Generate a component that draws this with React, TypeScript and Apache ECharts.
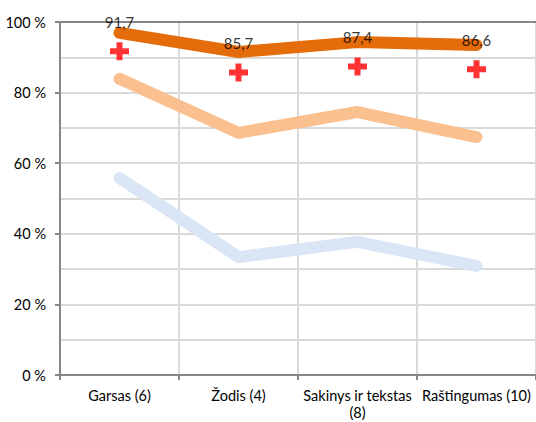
import React, { useEffect, useRef } from "react";
import * as echarts from "echarts";

const categories = ["Garsas (6)", "Žodis (4)", "Sakinys ir tekstas\n(8)", "Raštingumas (10)"];
const topSeries = [96.9, 91.5, 94.3, 93.5];
const midSeries = [83.9, 68.6, 74.5, 67.4];
const lowSeries = [55.8, 33.4, 37.7, 30.9];
const crossValues = [91.7, 85.7, 87.4, 86.6];
const yTicks = [0, 20, 40, 60, 80, 100];

const FONT = "Lato, 'Open Sans', sans-serif";

export default function App() {
  const ref = useRef<HTMLDivElement>(null);
  useEffect(() => {
    if (!ref.current) return;
    const chart = echarts.init(ref.current, null, { renderer: "svg" });
    const lineSeries = (data: number[], color: string, z: number) => ({
      type: "line",
      data,
      symbol: "none",
      z,
      lineStyle: { color, width: 12, cap: "round", join: "round" },
    });
    chart.setOption({
      animation: false,
      backgroundColor: "#ffffff",
      grid: { left: 60, top: 22, width: 480, height: 353 },
      xAxis: [
        {
          type: "category",
          data: categories,
          boundaryGap: true,
          axisLine: { show: true, lineStyle: { color: "#868686", width: 2 } },
          axisTick: { show: true, length: 5, lineStyle: { color: "#868686", width: 2 } },
          axisLabel: {
            color: "#000",
            fontSize: 14.5,
            fontFamily: FONT,
            margin: 12,
            lineHeight: 17,
            interval: 0,
          },
          splitLine: { show: true, lineStyle: { color: "#d9d9d9", width: 2 } },
        },
        {
          type: "category",
          data: categories,
          position: "top",
          axisLine: { show: true, lineStyle: { color: "#868686", width: 2 } },
          axisTick: { show: false },
          axisLabel: { show: false },
          splitLine: { show: false },
        },
      ],
      yAxis: {
        type: "value",
        min: yTicks[0],
        max: yTicks[yTicks.length - 1],
        interval: 20,
        axisLine: { show: true, lineStyle: { color: "#868686", width: 2 } },
        axisTick: { show: true, length: 5, lineStyle: { color: "#868686", width: 2 } },
        axisLabel: {
          color: "#000",
          fontSize: 14.5,
          fontFamily: FONT,
          margin: 14,
          formatter: (v: number) => `${v} %`,
        },
        splitLine: { show: true, lineStyle: { color: "#d9d9d9", width: 2 } },
        minorTick: { show: false, splitNumber: 2 },
        minorSplitLine: { show: true, lineStyle: { color: "#d9d9d9", width: 2 } },
      },
      series: [
        lineSeries(lowSeries, "#dae6f5", 2),
        lineSeries(midSeries, "#fac090", 3),
        lineSeries(topSeries, "#e46c0a", 4),
        {
          type: "scatter",
          data: crossValues,
          z: 5,
          symbol: "path://M6.5,0H12.5V6H19V12H12.5V18H6.5V12H0V6H6.5Z",
          symbolSize: [19, 18],
          itemStyle: { color: "#ff0000" },
          label: {
            show: true,
            position: "inside",
            offset: [0, -29],
            color: "#000",
            fontSize: 15,
            fontFamily: FONT,
            formatter: (p: any) => String(p.value).replace(".", ","),
          },
        },
      ],
    });
    return () => chart.dispose();
  }, []);
  return (
    <div
      ref={ref}
      style={{ position: "fixed", left: 0, top: 0, width: 536, height: 422, background: "#fff" }}
    />
  );
}
